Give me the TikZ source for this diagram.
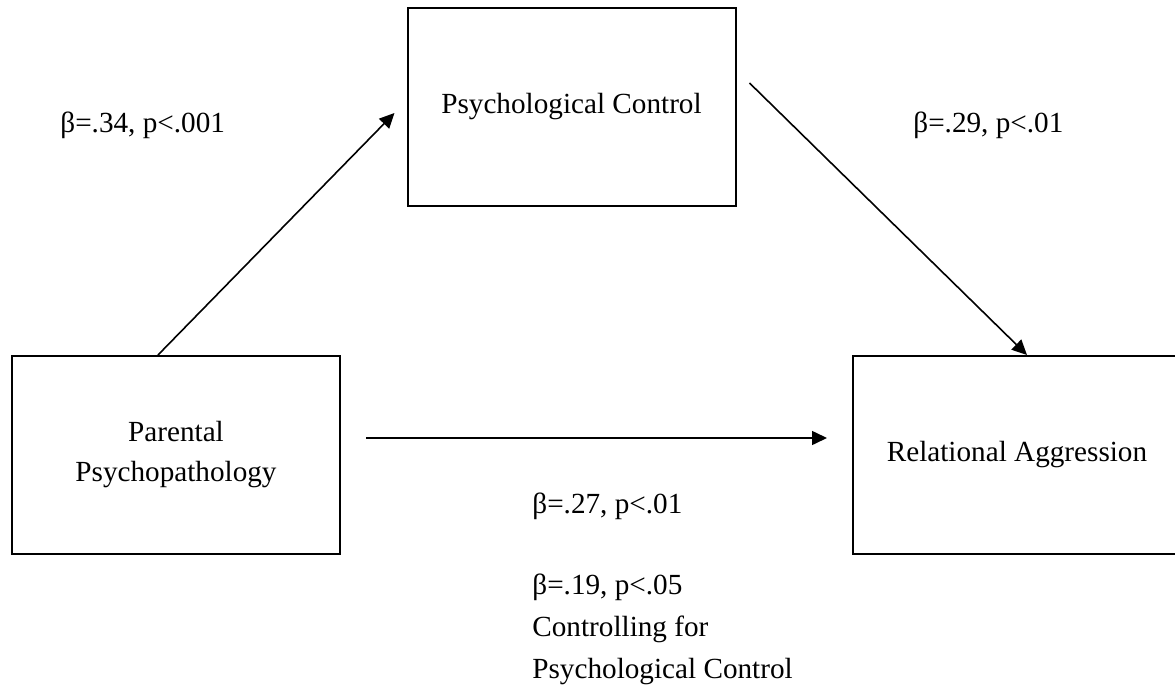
\documentclass[tikz,border=0pt]{standalone}
\usepackage{fontspec}
\setmainfont{Liberation Serif}
\usetikzlibrary{arrows.meta,calc}
\begin{document}
\begin{tikzpicture}[x=0.5pt,y=-0.5pt,
% common options for the boxes:
box/.style = {draw, line width=1pt, align=center, minimum width=164pt,
            minimum height=99pt, inner sep=0, font=\fontsize{14.6}{20}\selectfont},
% common options for the coefficients:
coef/.style = {align=left, anchor=base west, inner sep=0,
            font=\fontsize{14.6}{21}\selectfont},
>={Triangle[length=7.5pt,width=7pt]}]
\useasboundingbox (0,0) rectangle (1175,696);
\node[box] (PC) at (571.5,107) {Psychological Control};
\node[box] (PP) at (176,455) {Parental\\Psychopathology};
\node[box] (RA) at (1017,455) {Relational Aggression};
\node[coef] (C1) at (60,133) {β=.34, p<.001};
\node[coef] (C2) at (913,133) {β=.29, p<.01};
\node[coef] (C3) at (532,513) {β=.27, p<.01};
% base of a multi-line node is its last line
\node[coef] (C4) at (532,678) {β=.19, p<.05\\Controlling for\\Psychological Control};
\coordinate (a1) at ($(PP.north)+(-18,0)$);
\coordinate (a2) at ($(PC.west)+(-12,6)$);
\coordinate (b1) at ($(PC.east)+(13,-24)$);
\coordinate (b2) at ($(RA.north)+(10,0)$);
\coordinate (c1) at ($(PP.east)+(25,-17)$);
\coordinate (c2) at ($(RA.west)+(-25,-17)$);
\draw[->, line width=0.8pt] (a1) to (a2);
\draw[->, line width=0.8pt] (b1) to (b2);
\draw[->, line width=0.8pt] (c1) to (c2);
\end{tikzpicture}
\end{document}
